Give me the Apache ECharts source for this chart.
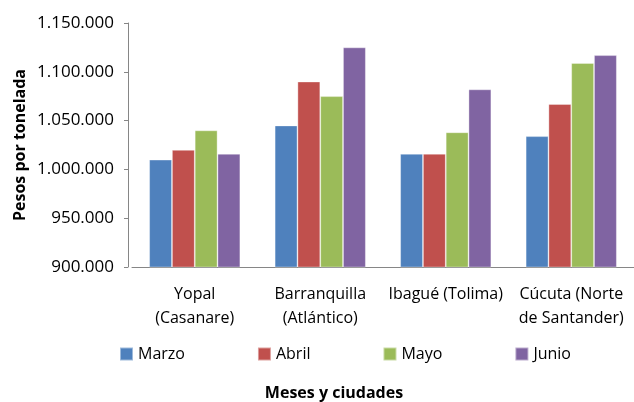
<!DOCTYPE html>
<html>
<head>
<meta charset="utf-8">
<script src="https://cdn.jsdelivr.net/npm/echarts@6/dist/echarts.min.js"></script>
<style>html,body{margin:0;padding:0;background:#fff}#c{width:634px;height:402px}</style>
</head>
<body>
<div id="c"></div>
<script>
const categories = ['Yopal\n(Casanare)', 'Barranquilla\n(Atlántico)', 'Ibagué (Tolima)', 'Cúcuta (Norte\nde Santander)'];
const seriesNames = ['Marzo', 'Abril', 'Mayo', 'Junio'];
const marzo = [1010000, 1045000, 1016000, 1034000];
const abril = [1020000, 1090000, 1016000, 1067000];
const mayo  = [1040000, 1075000, 1038000, 1109000];
const junio = [1016000, 1125000, 1082000, 1117000];
const colors = ['#4F81BD', '#C0504D', '#9BBB59', '#8064A2'];
const yMin = 900000, yMax = 1150000, yStep = 50000;

const font = '"Open Sans", "Noto Sans", sans-serif';
const fmt = v => String(v).replace(/\B(?=(\d{3})+(?!\d))/g, '.');
const data = [marzo, abril, mayo, junio];

const chart = echarts.init(document.getElementById('c'), null, {renderer: 'canvas'});
chart.setOption({
  animation: false,
  textStyle: {fontFamily: font},
  grid: {left: 132, right: -10, top: 23, bottom: 135, containLabel: false},
  legend: {
    data: seriesNames,
    left: 119, top: 346, padding: 0,
    itemWidth: 13, itemHeight: 13, itemGap: 72,
    icon: 'rect',
    textStyle: {fontFamily: font, fontSize: 16, color: '#000'}
  },
  xAxis: {
    type: 'category',
    data: categories,
    axisLine: {lineStyle: {color: '#868686', width: 1}},
    axisTick: {show: false},
    axisLabel: {fontFamily: font, fontSize: 16, color: '#000', lineHeight: 24, margin: 15, interval: 0}
  },
  yAxis: {
    type: 'value',
    min: yMin, max: yMax, interval: yStep,
    offset: 4,
    axisLine: {show: true, lineStyle: {color: '#868686', width: 1}},
    axisTick: {show: true, length: 4, lineStyle: {color: '#868686'}},
    splitLine: {show: false},
    axisLabel: {fontFamily: font, fontSize: 17, color: '#000', margin: 14, formatter: fmt}
  },
  series: seriesNames.map((n, i) => ({
    name: n,
    type: 'bar',
    data: data[i],
    barGap: '0%',
    barCategoryGap: '27.4%',
    itemStyle: {color: colors[i], borderColor: 'rgba(255,255,255,0.45)', borderWidth: 0.8}
  })),
  graphic: [
    {type: 'text', x: 20, y: 145, rotation: Math.PI / 2,
     style: {text: 'Pesos por tonelada', font: 'bold 16px ' + font, fill: '#000', textAlign: 'center', textVerticalAlign: 'middle'}},
    {type: 'text', x: 334, y: 393,
     style: {text: 'Meses y ciudades', font: 'bold 16px ' + font, fill: '#000', textAlign: 'center', textVerticalAlign: 'middle'}}
  ]
});
</script>
</body>
</html>
